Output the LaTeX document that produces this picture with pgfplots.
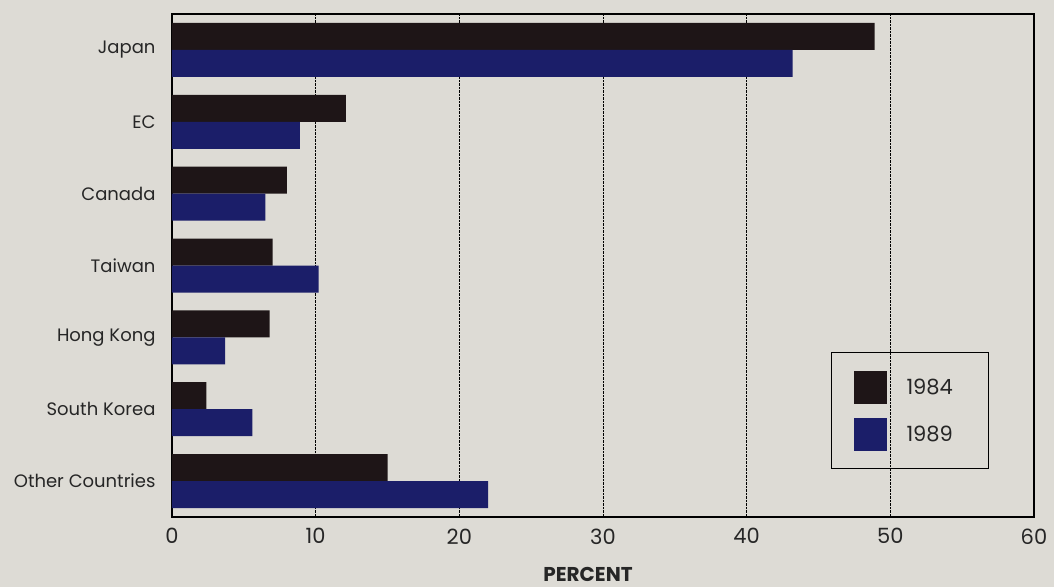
\documentclass[border=0pt]{standalone}
\usepackage{pgfplots}
\pgfplotsset{compat=1.18}
\usepackage{fontspec}
\setmainfont{Poppins}

\definecolor{paper}{RGB}{221,219,213}
\definecolor{bar84}{RGB}{30,21,23}
\definecolor{bar89}{RGB}{27,30,105}

\pgfplotstableread{
idx  y84   y89
0    48.9  43.2
1    12.1   8.9
2     8.0   6.5
3     7.0  10.2
4     6.8   3.7
5     2.4   5.6
6    15.0  22.0
}\sharetable

\begin{document}
\begin{tikzpicture}
% page background
\fill[paper] (-172pt,-70pt) rectangle (882pt,517pt);
\begin{axis}[
  scale only axis,
  width=862pt, height=503pt,
  xmin=0, xmax=60,
  ymin=-0.5, ymax=6.5,
  y dir=reverse,
  xbar,
  bar width=27pt,
  axis line style={black, line width=1.3pt},
  xtick={0,10,...,60},
  ytick={0,...,6},
  yticklabels={Japan,EC,Canada,Taiwan,Hong Kong,South Korea,Other Countries},
  major tick length=0pt,
  xmajorgrids,
  grid style={black, densely dotted, line width=0.7pt},
  /pgf/number format/assume math mode=true,
  xticklabel style={font=\fontsize{21}{24}\selectfont, text=black!85, yshift=-8pt},
  yticklabel style={font=\fontsize{18}{21}\selectfont, text=black!85, xshift=-13pt},
  xlabel={\textbf{PERCENT}},
  xlabel style={font=\fontsize{20}{23}\selectfont, text=black!85, yshift=-16pt, xshift=-15pt},
  legend style={at={(0.7645,0.328)}, anchor=north west, draw=black, line width=1pt,
    fill=none, inner xsep=22pt, inner ysep=18pt, row sep=14pt,
    font=\fontsize{21}{24}\selectfont, text=black!85},
  legend cell align=left,
  legend image code/.code={\fill[#1,draw=none] (0pt,-16.5pt) rectangle (33pt,16.5pt);},
]
\addplot[fill=bar84, draw=none, bar shift=13.5pt] table[x=y84, y=idx] {\sharetable};
\addplot[fill=bar89, draw=none, bar shift=-13.5pt] table[x=y89, y=idx] {\sharetable};
\legend{\hspace{18pt}1984\rule{12pt}{0pt},\hspace{18pt}1989\rule{12pt}{0pt}}
\end{axis}
\end{tikzpicture}
\end{document}
